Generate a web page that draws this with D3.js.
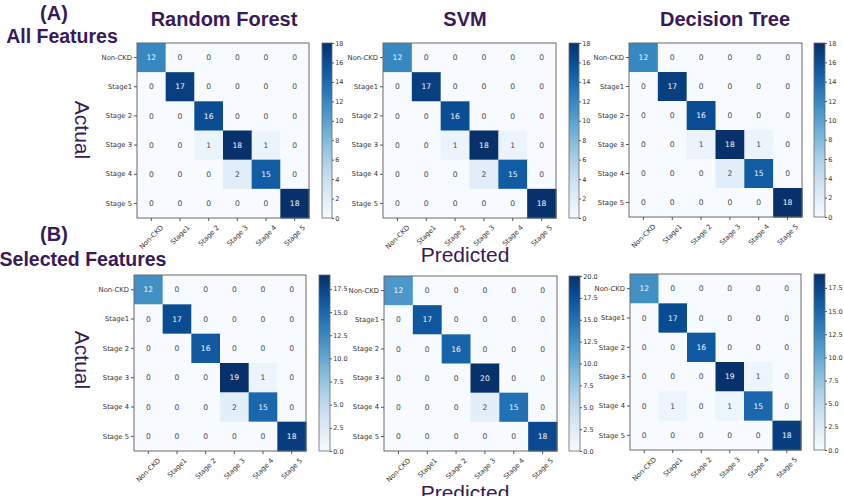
<!DOCTYPE html>
<html><head><meta charset="utf-8">
<script src="https://cdn.jsdelivr.net/npm/d3@7"></script>
<style>body{margin:0;background:#fff}svg{display:block}</style>
</head><body>
<svg id="c" width="844" height="496"></svg>
<script>
// ---------- DATA ----------
const classes = ["Non-CKD", "Stage1", "Stage 2", "Stage 3", "Stage 4", "Stage 5"];
const models = ["Random Forest", "SVM", "Decision Tree"];
const rowsTitles = ["All Features", "Selected Features"];
const rowTags = ["(A)", "(B)"];

const rfAll = [
  [12,0,0,0,0,0],[0,17,0,0,0,0],[0,0,16,0,0,0],[0,0,1,18,1,0],[0,0,0,2,15,0],[0,0,0,0,0,18]];
const svmAll = [
  [12,0,0,0,0,0],[0,17,0,0,0,0],[0,0,16,0,0,0],[0,0,1,18,1,0],[0,0,0,2,15,0],[0,0,0,0,0,18]];
const dtAll = [
  [12,0,0,0,0,0],[0,17,0,0,0,0],[0,0,16,0,0,0],[0,0,1,18,1,0],[0,0,0,2,15,0],[0,0,0,0,0,18]];
const rfSel = [
  [12,0,0,0,0,0],[0,17,0,0,0,0],[0,0,16,0,0,0],[0,0,0,19,1,0],[0,0,0,2,15,0],[0,0,0,0,0,18]];
const svmSel = [
  [12,0,0,0,0,0],[0,17,0,0,0,0],[0,0,16,0,0,0],[0,0,0,20,0,0],[0,0,0,2,15,0],[0,0,0,0,0,18]];
const dtSel = [
  [12,0,0,0,0,0],[0,17,0,0,0,0],[0,0,16,0,0,0],[0,0,0,19,1,0],[0,1,0,1,15,0],[0,0,0,0,0,18]];

const ticksAll = [0,2,4,6,8,10,12,14,16,18];
const ticksSel19 = [0,2.5,5,7.5,10,12.5,15,17.5];
const ticksSel20 = [0,2.5,5,7.5,10,12.5,15,17.5,20];

// ---------- LAYOUT ----------
const purple = "#381a58";
const panels = [
  {m: rfAll,  ticks: ticksAll,   fmt: d3.format("d"),   x0:137, x1:309, y0:43,  y1:218, c0:322, c1:332},
  {m: svmAll, ticks: ticksAll,   fmt: d3.format("d"),   x0:383, x1:556, y0:43,  y1:218, c0:569, c1:579},
  {m: dtAll,  ticks: ticksAll,   fmt: d3.format("d"),   x0:629, x1:802, y0:43,  y1:217, c0:814, c1:825},
  {m: rfSel,  ticks: ticksSel19, fmt: d3.format(".1f"), x0:134, x1:306, y0:275, y1:451, c0:319, c1:330},
  {m: svmSel, ticks: ticksSel20, fmt: d3.format(".1f"), x0:384, x1:557, y0:276, y1:451, c0:569, c1:580},
  {m: dtSel,  ticks: ticksSel19, fmt: d3.format(".1f"), x0:630, x1:801, y0:274, y1:450, c0:814, c1:825}
];

const svg = d3.select("#c");
const defs = svg.append("defs");
const font = "'DejaVu Sans', sans-serif";
const tickFs = 6.8;

panels.forEach((p, pi) => {
  const vmax = d3.max(p.m.flat());
  const color = d3.scaleSequential(d3.interpolateBlues).domain([0, vmax]);
  const xs = d3.scaleBand().domain(classes).range([p.x0, p.x1]);
  const ys = d3.scaleBand().domain(classes).range([p.y0, p.y1]);
  const g = svg.append("g");

  const cells = [];
  p.m.forEach((row, i) => row.forEach((v, j) => cells.push({r: classes[i], c: classes[j], v})));

  g.selectAll("rect.cell").data(cells).join("rect")
    .attr("x", d => xs(d.c)).attr("y", d => ys(d.r))
    .attr("width", xs.bandwidth() + 0.5).attr("height", ys.bandwidth() + 0.5)
    .attr("fill", d => color(d.v));

  g.selectAll("text.val").data(cells).join("text")
    .attr("x", d => xs(d.c) + xs.bandwidth() / 2)
    .attr("y", d => ys(d.r) + ys.bandwidth() / 2)
    .attr("dy", "0.35em").attr("text-anchor", "middle")
    .attr("font-family", font).attr("font-size", 7.6)
    .attr("fill", d => d.v > vmax / 2 ? "#f4f7fb" : "#4a4a4a")
    .text(d => d.v);

  g.append("rect").attr("x", p.x0).attr("y", p.y0)
    .attr("width", p.x1 - p.x0).attr("height", p.y1 - p.y0)
    .attr("fill", "none").attr("stroke", "#6a6a6a").attr("stroke-width", 1);

  // y axis
  const ya = g.append("g").attr("transform", `translate(${p.x0},0)`)
    .call(d3.axisLeft(ys).tickSize(3).tickPadding(2));
  ya.select(".domain").remove();
  ya.selectAll("line").attr("stroke", "#555");
  ya.selectAll("text").attr("font-family", font).attr("font-size", tickFs).attr("fill", "#333");

  // x axis (labels rotated 45°, bounding box centred under tick)
  const xa = g.append("g").attr("transform", `translate(0,${p.y1})`)
    .call(d3.axisBottom(xs).tickSize(3).tickPadding(2));
  xa.select(".domain").remove();
  xa.selectAll("line").attr("stroke", "#555");
  xa.selectAll("text").attr("font-family", font).attr("font-size", tickFs).attr("fill", "#333")
    .attr("text-anchor", "middle").attr("y", 0).attr("dy", "0.35em")
    .attr("transform", function() {
      const L = this.getComputedTextLength();
      const h = tickFs * 0.95;
      const bbh = (L + h) * Math.SQRT1_2;
      return `translate(0,${3 + 3 + bbh / 2}) rotate(-45)`;
    });

  // colorbar
  const gid = "grad" + pi;
  const grad = defs.append("linearGradient").attr("id", gid)
    .attr("x1", 0).attr("y1", 1).attr("x2", 0).attr("y2", 0);
  d3.range(0, 1.0001, 0.05).forEach(t => grad.append("stop")
    .attr("offset", t).attr("stop-color", d3.interpolateBlues(t)));
  g.append("rect").attr("x", p.c0).attr("y", p.y0)
    .attr("width", p.c1 - p.c0).attr("height", p.y1 - p.y0)
    .attr("fill", `url(#${gid})`).attr("stroke", "#6a6a6a").attr("stroke-width", 0.8);
  const cs = d3.scaleLinear().domain([0, vmax]).range([p.y1, p.y0]);
  const ca = g.append("g").attr("transform", `translate(${p.c1},0)`)
    .call(d3.axisRight(cs).tickValues(p.ticks).tickFormat(p.fmt).tickSize(2).tickPadding(1.2));
  ca.select(".domain").remove();
  ca.selectAll("line").attr("stroke", "#555");
  ca.selectAll("text").attr("font-family", font).attr("font-size", 6.5).attr("fill", "#333");
});

// ---------- TEXT LABELS ----------
const titleFont = "'Liberation Sans', Arial, sans-serif";
const titleX = [224, 465, 725];
models.forEach((t, i) => svg.append("text").attr("x", titleX[i]).attr("y", 26)
  .attr("text-anchor", "middle").attr("font-family", titleFont).attr("font-weight", "bold")
  .attr("font-size", 20).attr("fill", purple).text(t));

const tagY = [20, 241];
const rowTitleY = [43, 266];
const rowTitleX = [62, 83];
rowTags.forEach((t, i) => {
  svg.append("text").attr("x", 54).attr("y", tagY[i]).attr("text-anchor", "middle")
    .attr("font-family", titleFont).attr("font-weight", "bold").attr("font-size", 20)
    .attr("fill", purple).text(t);
  svg.append("text").attr("x", rowTitleX[i]).attr("y", rowTitleY[i]).attr("text-anchor", "middle")
    .attr("font-family", titleFont).attr("font-weight", "bold").attr("font-size", 19.5)
    .attr("fill", purple).text(rowsTitles[i]);
});

const actualY = [130, 360];
actualY.forEach(y => svg.append("text")
  .attr("transform", `translate(75,${y}) rotate(90)`).attr("text-anchor", "middle")
  .attr("font-family", titleFont).attr("font-size", 21).attr("fill", purple).text("Actual"));

const predY = [262, 500];
predY.forEach(y => svg.append("text").attr("x", 465).attr("y", y)
  .attr("text-anchor", "middle").attr("font-family", titleFont).attr("font-size", 21)
  .attr("fill", purple).text("Predicted"));
</script>
</body></html>
